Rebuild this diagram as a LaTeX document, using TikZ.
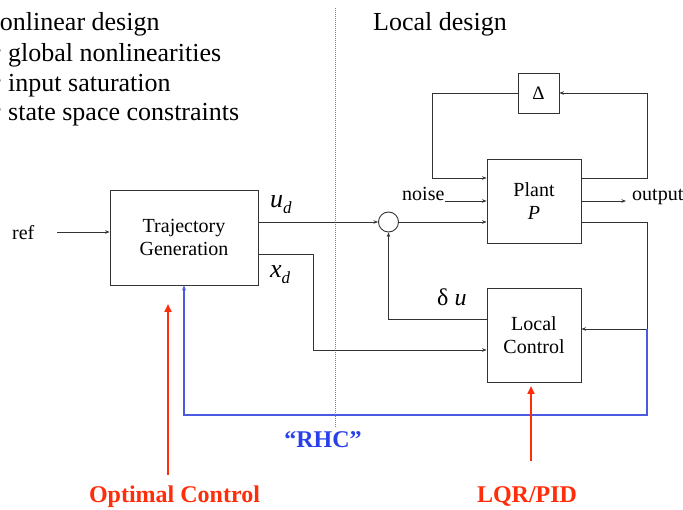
\documentclass[tikz,border=0pt]{standalone}
\usepackage{fontspec}
\setmainfont{Liberation Serif}
\usetikzlibrary{arrows.meta,calc}
\definecolor{ored}{RGB}{255,45,10}
\definecolor{rblue}{RGB}{75,90,225}
\definecolor{tblue}{RGB}{40,65,235}
\begin{document}
\begin{tikzpicture}[x=1pt,y=-1pt,
  big/.style={inner sep=0pt,font=\fontsize{26}{30}\selectfont},
  lbl/.style={inner sep=0pt,font=\fontsize{20}{23}\selectfont},
  blk/.style={draw=black!80,line width=0.9pt,rectangle,inner sep=0pt,align=center,font=\fontsize{20}{23}\selectfont},
  wire/.style={draw=black!80,line width=0.9pt},
  sig/.style={wire,-{Stealth[length=4.5pt,width=3.5pt]}},
  bluewire/.style={draw=rblue,line width=2pt,-{Stealth[length=5pt,width=4pt]}},
  redarrow/.style={draw=ored,line width=2.4pt,-{Triangle[length=8pt,width=7pt]}},
  redlbl/.style={inner sep=0pt,text=ored,font=\fontsize{24}{28}\selectfont\bfseries},
]
\useasboundingbox (0,0) rectangle (683,510);

% header texts
\node[big,anchor=base west] (h1) at (-19,31) {Nonlinear design};
\node[big,anchor=base] (bu1) at (-2.5,60) {•};
\node[big,anchor=base west] (h2) at (8,62) {global nonlinearities};
\node[big,anchor=base] (bu2) at (-2.5,90) {•};
\node[big,anchor=base west] (h3) at (8,92) {input saturation};
\node[big,anchor=base] (bu3) at (-2.5,119) {•};
\node[big,anchor=base west] (h4) at (8,121) {state space constraints};
\node[big,anchor=base west] (ld) at (373,31) {Local design};

% dotted separator
\coordinate (sepT) at (335,8);
\coordinate (sepB) at (335,428);
\draw[gray,line width=0.8pt,dash pattern=on 1pt off 1pt] (sepT) -- (sepB);

% blocks
\node[blk,minimum width=148pt,minimum height=95pt] (traj) at (184,237.5) {Trajectory\\Generation};
\node[blk,minimum width=94pt,minimum height=84pt] (plant) at (534,201) {Plant\\\textit{P}};
\node[blk,minimum width=41pt,minimum height=40pt,font=\fontsize{19}{22}\selectfont] (delta) at (538.5,93) {Δ};
\node[blk,minimum width=94pt,minimum height=94pt] (local) at (534,335) {Local\\Control};
\node[draw=black!80,line width=0.9pt,circle,minimum size=20pt,inner sep=0pt] (sum) at (388.5,222) {};

% labels
\node[lbl,anchor=base west] (ref) at (12,240) {ref};
\node[lbl,anchor=base west] (noise) at (402,201) {noise};
\node[lbl,anchor=base west] (out) at (632,201) {output};
\node[big,anchor=base west] (ud) at (270,208) {\itshape u\raisebox{-6pt}{\fontsize{17}{17}\selectfont d}};
\node[big,anchor=base west] (xd) at (270,278) {\itshape x\raisebox{-6pt}{\fontsize{17}{17}\selectfont d}};
\node[anchor=base west,inner sep=0pt,font=\fontsize{24}{28}\selectfont] (du) at (437,306) {δ \textit{u}};

% routing coordinates
\coordinate (refa) at (57,232);
\coordinate (dlL) at (432,178);
\coordinate (dlLT) at (432,93);
\coordinate (dlR) at (647,178);
\coordinate (fb0) at (647,222);
\coordinate (fb) at (647,329);
\coordinate (xd1) at (313,254);
\coordinate (xd2) at (313,350);
\coordinate (du1) at (388.5,319);
\coordinate (bl1) at (647,415);
\coordinate (bl2) at (184,415);

% connectors
\draw[sig] (refa) -- (traj.west |- refa);
\draw[sig] (traj.east |- sum) -- (sum.west);
\draw[sig] (sum.east) -- (plant.west |- sum);
\draw[sig] (noise.base east) -- (plant.west |- noise.base east);
\draw[sig,shorten >=6pt] (plant.east) -- (out.base west);
\draw[sig] (delta.west) -- (dlLT) -- (dlL) -- (plant.west |- dlL);
\draw[sig] (plant.east |- dlR) -- (dlR) -- (dlR |- delta) -- (delta.east);
\draw[sig] (plant.east |- fb0) -- (fb0) -- (fb) -- (local.east |- fb);
\draw[sig] (traj.east |- xd1) -- (xd1) -- (xd2) -- (local.west |- xd2);
\draw[sig] (local.west |- du1) -- (du1) -- (sum.south);
\draw[bluewire] (fb) -- (bl1) -- (bl2) -- (traj.south);

% red annotations
\node[redlbl,anchor=base] (oc) at (174.5,502) {Optimal Control};
\node[redlbl,anchor=base] (lqr) at (527,502) {LQR/PID};
\node[inner sep=0pt,text=tblue,font=\fontsize{24}{28}\selectfont\bfseries,anchor=base] (rhc) at (323,448) {“RHC”};
\coordinate (oca) at (168,475);
\coordinate (ocb) at (168,304);
\coordinate (lqa) at (531,461);
\coordinate (lqb) at (531,386);
\draw[redarrow] (oca) -- (ocb);
\draw[redarrow] (lqa) -- (lqb);
\end{tikzpicture}
\end{document}
